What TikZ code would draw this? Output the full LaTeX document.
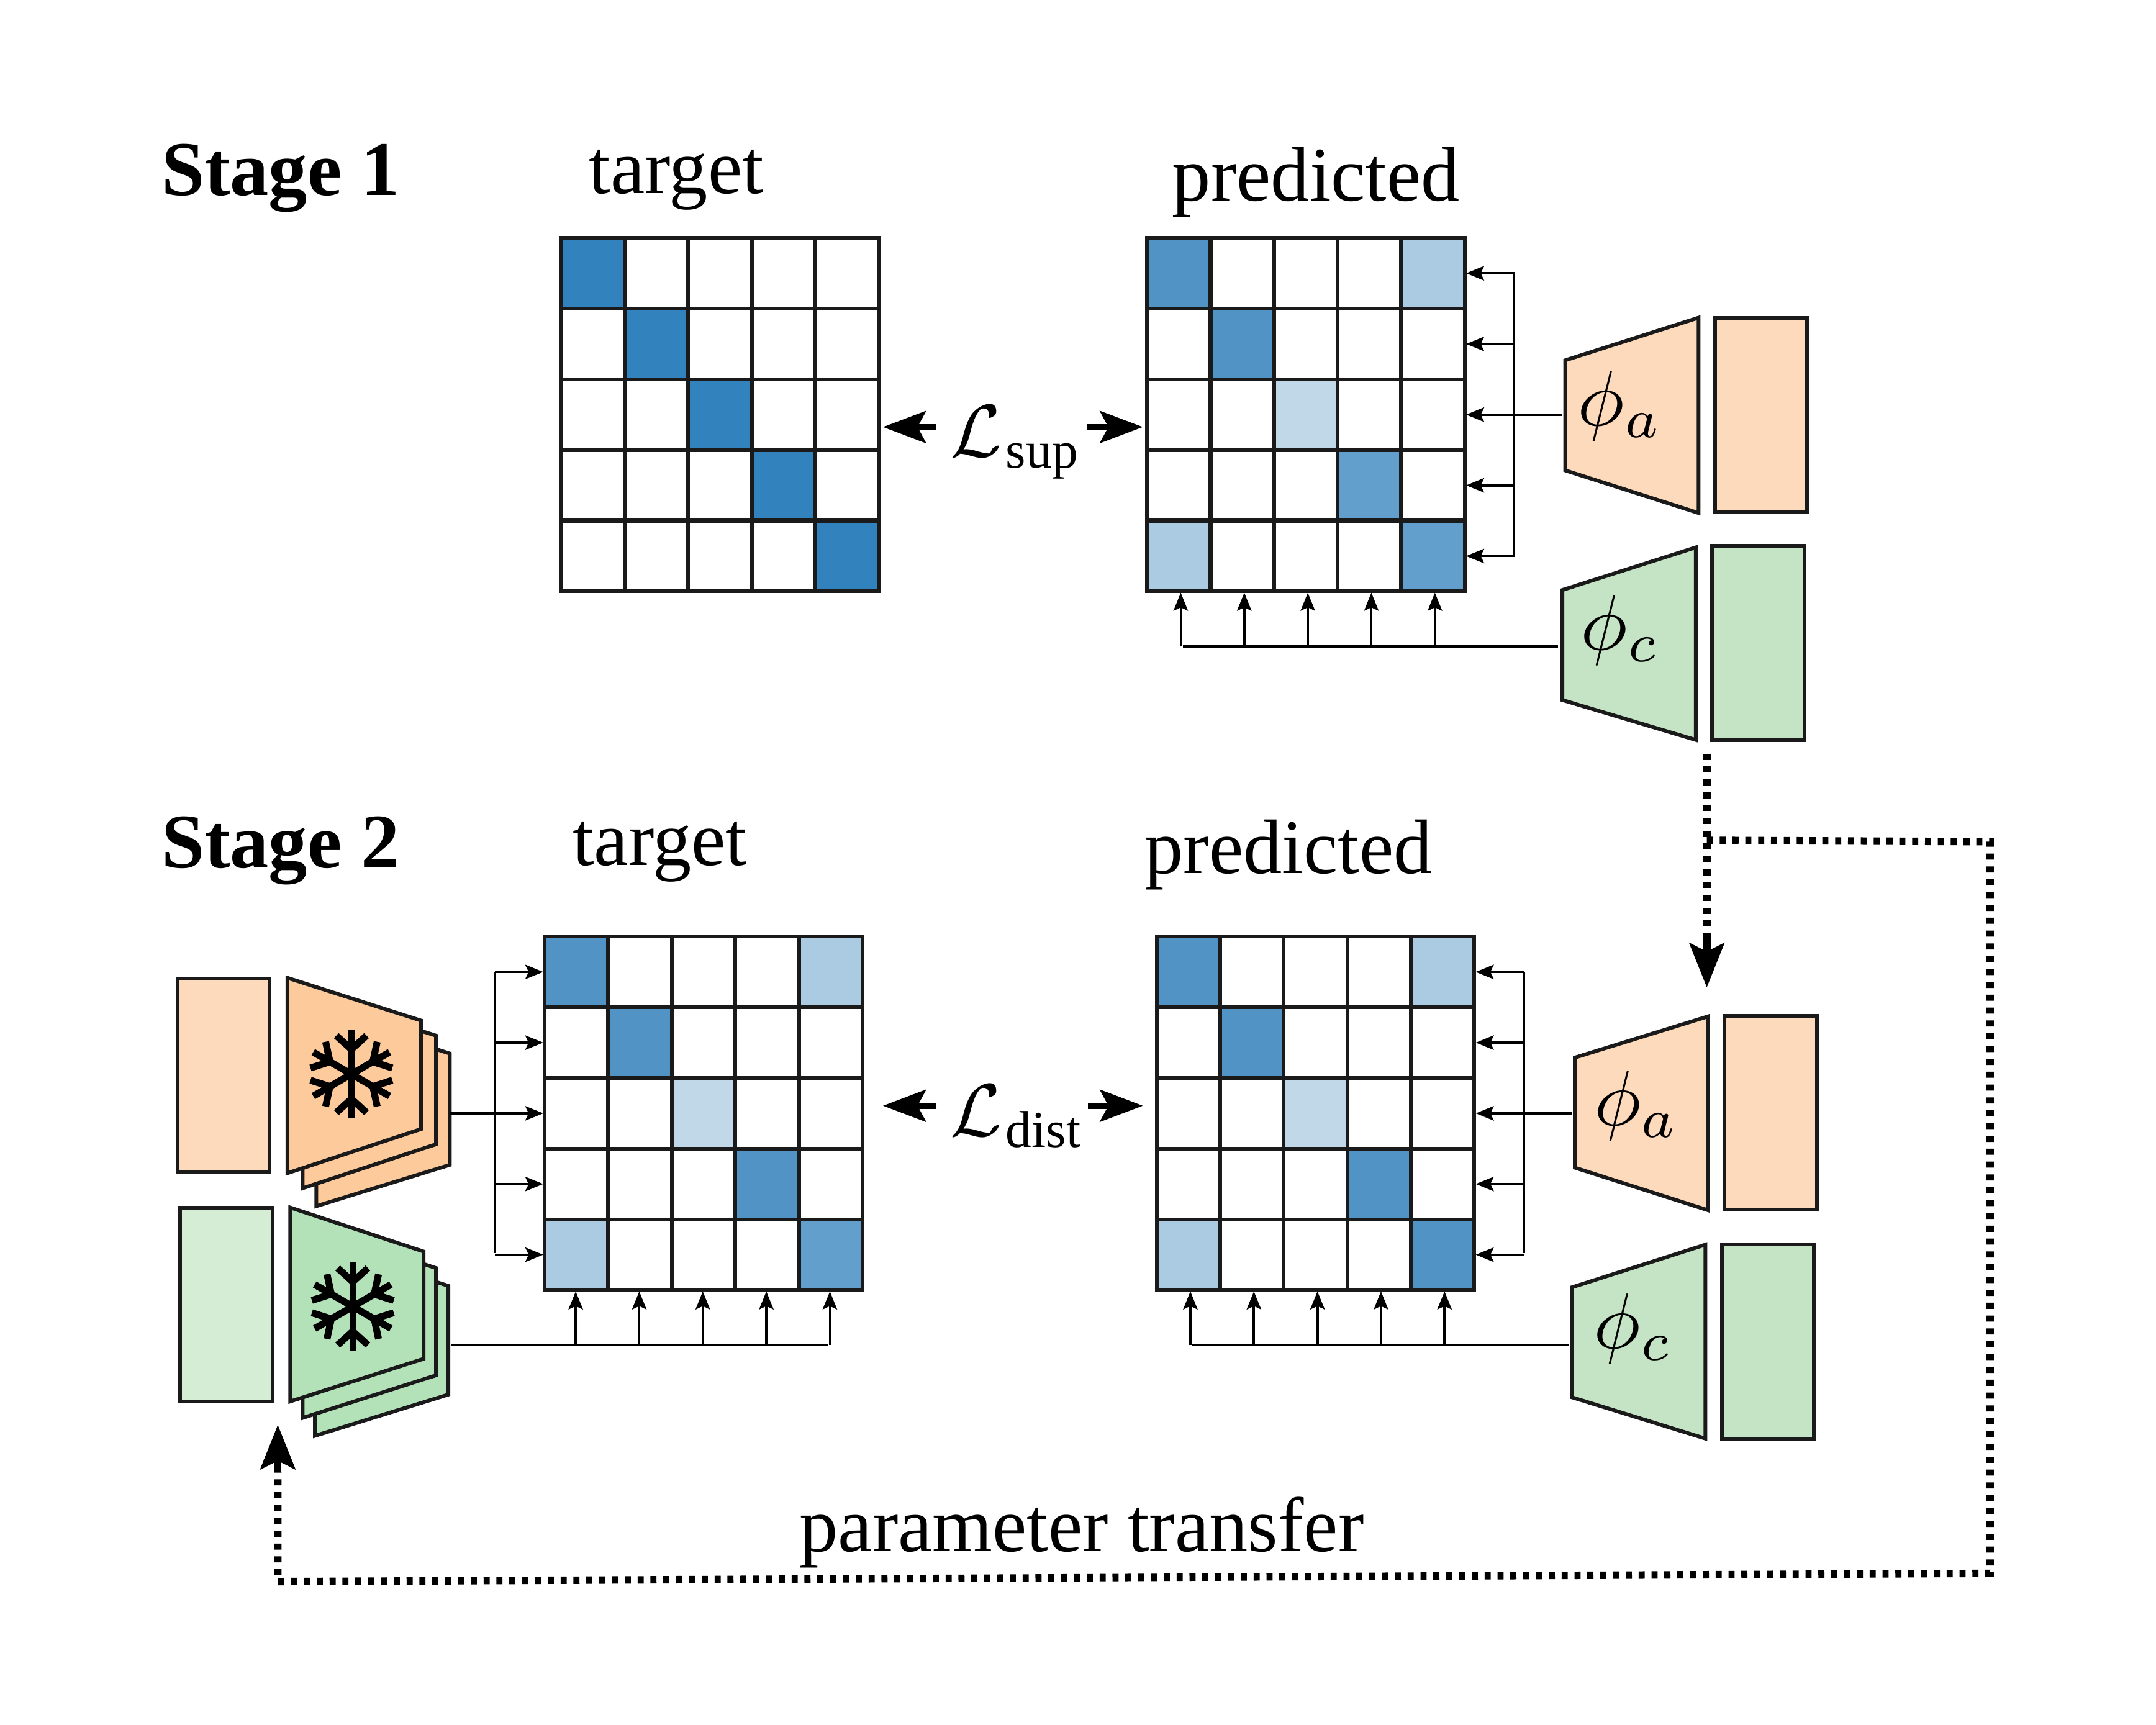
\documentclass[tikz,border=0pt]{standalone}
\usepackage{fontspec}
\setmainfont{Liberation Serif}
\usetikzlibrary{arrows.meta}
\definecolor{ink}{HTML}{1A1A1A}
\definecolor{peach}{HTML}{FEDABC}
\definecolor{peachD}{HTML}{FDCA9B}
\definecolor{mint}{HTML}{C5E3C5}
\definecolor{mintL}{HTML}{D5EDD5}
\definecolor{mintD}{HTML}{B3E2B9}
\definecolor{bA}{HTML}{3182BD}
\definecolor{bB}{HTML}{5193C4}
\definecolor{bC}{HTML}{639FCC}
\definecolor{bD}{HTML}{ABCBE3}
\definecolor{bE}{HTML}{C1D8E8}
\tikzset{
  x=0.4983pt,y=-0.4983pt,
  cellbox/.style={draw=ink,fill=white,line width=1.4pt,minimum width=23.02pt,minimum height=25.61pt,inner sep=0pt,outer sep=0pt},
  blockbox/.style={draw=ink,line width=1.35pt,inner sep=0pt,outer sep=0pt,minimum width=33.4pt,minimum height=70.3pt},
  trapbox/.style={draw=ink,line width=1.35pt,line join=miter},
  feed/.style={line width=0.85pt,draw=black},
  feedtip/.style={feed,-{Stealth[length=6.5pt,width=5.2pt,inset=1.2pt]},shorten >=0.5pt},
  lossarrow/.style={line width=2.2pt,-{Stealth[length=15.5pt,width=11.5pt,inset=3pt]}},
  transfer/.style={line width=2.7pt,dash pattern=on 2.2pt off 2.45pt},
  transfertip/.style={line width=2.7pt,-{Stealth[length=16pt,width=12.5pt,inset=3pt]}},
  heading/.style={font=\fontsize{28}{32}\selectfont\bfseries,anchor=base west,inner sep=0pt},
  caption/.style={font=\fontsize{28}{32}\selectfont,anchor=base west,inner sep=0pt},
  mathlabel/.style={scale=2.85,inner sep=0pt},
  losslabel/.style={scale=2.7,anchor=base west,inner sep=0pt},
  % cell colours
  ta-1-1/.style={fill=bA},ta-2-2/.style={fill=bA},ta-3-3/.style={fill=bA},ta-4-4/.style={fill=bA},ta-5-5/.style={fill=bA},
  pa-1-1/.style={fill=bB},pa-2-2/.style={fill=bB},pa-3-3/.style={fill=bE},pa-4-4/.style={fill=bC},pa-5-5/.style={fill=bC},pa-1-5/.style={fill=bD},pa-5-1/.style={fill=bD},
  tb-1-1/.style={fill=bB},tb-2-2/.style={fill=bB},tb-3-3/.style={fill=bE},tb-4-4/.style={fill=bB},tb-5-5/.style={fill=bC},tb-1-5/.style={fill=bD},tb-5-1/.style={fill=bD},
  pb-1-1/.style={fill=bB},pb-2-2/.style={fill=bB},pb-3-3/.style={fill=bE},pb-4-4/.style={fill=bB},pb-5-5/.style={fill=bB},pb-1-5/.style={fill=bD},pb-5-1/.style={fill=bD},
}
\newcommand\cellgrid[3]{%
  \foreach \r in {1,...,5}{\foreach \c in {1,...,5}{%
    \node[cellbox,#1-\r-\c/.try] (#1-\r-\c) at ({#2+(\c-0.5)*46.2},{#3+(\r-0.5)*51.4}) {};
  }}%
}
% name, xl, xr, left top, left bottom, right top, right bottom, fill
\newcommand\trap[8]{%
  \draw[trapbox,fill=#8] (#2,#4) -- (#3,#6) -- (#3,#7) -- (#2,#5) -- cycle;
}
\newcommand\flake[2]{%
  \foreach \a in {90,30,-30,-90,-150,150}{%
    \begin{scope}[shift={(#1,#2)},rotate=\a]
      \draw[line width=2.5pt,black,line cap=butt,line join=miter] (0,0) -- (32,0);
      \draw[line width=2.5pt,black,line cap=butt,line join=miter] (28,-11) -- (18,0) -- (28,11);
    \end{scope}
  }%
}
\begin{document}
\begin{tikzpicture}
\useasboundingbox (0,0) rectangle (1567.6,1254.2);
% headings
\node[heading] (s1) at (117,142) {Stage 1};
\node[heading] (s2) at (117,631) {Stage 2};
\node[caption] (c1) at (428,140.5) {target};
\node[caption] (c2) at (852,146) {predicted};
\node[caption] (c3) at (416,629) {target};
\node[caption] (c4) at (832,635) {predicted};
\node[caption] (c5) at (581,1128) {parameter transfer};
% grids
\cellgrid{ta}{408}{173}
\cellgrid{pa}{834}{173}
\cellgrid{tb}{396}{681}
\cellgrid{pb}{841}{681}
% losses
\node[losslabel] (lsup) at (690,332) {$\mathcal{L}_{\mkern1.2mu\mbox{\fontsize{6.95}{8}\selectfont sup}}$};
\node[losslabel] (ldist) at (690,826) {$\mathcal{L}_{\mkern1.2mu\mbox{\fontsize{6.95}{8}\selectfont dist}}$};
\coordinate (a1) at (681,310.5); \coordinate (a1t) at (642,310.5);
\coordinate (a2) at (790,310.5); \coordinate (a2t) at (831,310.5);
\coordinate (a3) at (681,804); \coordinate (a3t) at (642,804);
\coordinate (a4) at (791,804); \coordinate (a4t) at (831,804);
\draw[lossarrow] (a1) -- (a1t);
\draw[lossarrow] (a2) -- (a2t);
\draw[lossarrow] (a3) -- (a3t);
\draw[lossarrow] (a4) -- (a4t);
% stage 1 encoders
\trap{}{1138}{1235}{262}{342}{231}{373}{peach}
\node[blockbox,fill=peach] (ra) at (1280.5,301.5) {};
\node[mathlabel] (phia1) at (1178,295) {$\phi_a$};
\trap{}{1136}{1233}{429}{509}{398}{538}{mint}
\node[blockbox,fill=mint] (rc) at (1278.5,467.5) {};
\node[mathlabel] (phic1) at (1178,458) {$\phi_c$};
% stage 2 right encoders
\trap{}{1145}{1242}{769}{849}{739}{880}{peach}
\node[blockbox,fill=peach] (rb) at (1287.5,809) {};
\node[mathlabel] (phia2) at (1190,804) {$\phi_a$};
\trap{}{1143}{1240}{936}{1016}{905}{1046}{mint}
\node[blockbox,fill=mint] (rd) at (1285.5,975.5) {};
\node[mathlabel] (phic2) at (1187.5,966) {$\phi_c$};
% stage 2 left frozen encoders
\node[blockbox,fill=peach] (lf) at (162.5,782) {};
\trap{}{230}{327}{735}{877}{766}{847}{peachD}
\trap{}{220}{317}{722}{864}{753}{832}{peachD}
\trap{}{209}{306}{711}{853}{742}{821}{peachD}
\flake{255.5}{781}
\node[blockbox,fill=mintL] (lg) at (164.5,948.5) {};
\trap{}{229}{326}{903}{1044}{935}{1014}{mintD}
\trap{}{220}{317}{890}{1031}{922}{1000}{mintD}
\trap{}{211}{308}{878}{1019}{910}{988}{mintD}
\flake{256.5}{950}
% stage 1 feeds
\coordinate (fa) at (1136,301.5);
\coordinate (ba1) at (1101,199); \coordinate (ba5) at (1101,404);
\draw[feedtip] (fa) -- (pa-3-5.east);
\draw[feed] (ba1) -- (ba5);
\foreach \r in {1,2,4,5}{\draw[feedtip] (1101,{173+(\r-0.5)*51.4}) -- (pa-\r-5.east);}
\coordinate (fc) at (1133,470); \coordinate (fcl) at (860,470);
\draw[feed] (fc) -- (fcl);
\foreach \c in {1,...,5}{\draw[feedtip] ([xshift=0.7pt]pa-5-\c.south |- fc) -- ([xshift=0.7pt]pa-5-\c.south);}
% stage 2 right feeds
\coordinate (fb) at (1143,809.5);
\coordinate (bb1) at (1108,707); \coordinate (bb5) at (1108,911);
\draw[feedtip] (fb) -- (pb-3-5.east);
\draw[feed] (bb1) -- (bb5);
\foreach \r in {1,2,4,5}{\draw[feedtip] (1108,{681+(\r-0.5)*51.4}) -- (pb-\r-5.east);}
\coordinate (fd) at (1141,978); \coordinate (fdl) at (867,978);
\draw[feed] (fd) -- (fdl);
\foreach \c in {1,...,5}{\draw[feedtip] ([xshift=0.7pt]pb-5-\c.south |- fd) -- ([xshift=0.7pt]pb-5-\c.south);}
% stage 2 left feeds
\coordinate (fe) at (327,809.5);
\coordinate (be1) at (360,707); \coordinate (be5) at (360,911);
\draw[feedtip] (fe) -- (tb-3-1.west);
\draw[feed] (be1) -- (be5);
\foreach \r in {1,2,4,5}{\draw[feedtip] (360,{681+(\r-0.5)*51.4}) -- (tb-\r-1.west);}
\coordinate (ff) at (328,978); \coordinate (ffr) at (602,978);
\draw[feed] (ff) -- (ffr);
\foreach \c in {1,...,5}{\draw[feedtip] ([xshift=-0.25pt]tb-5-\c.south |- ff) -- ([xshift=-0.25pt]tb-5-\c.south);}
% parameter transfer
\coordinate (d0) at (1241,548); \coordinate (d1) at (1241,682); \coordinate (d1t) at (1241,718);
\coordinate (d2) at (1241,611); \coordinate (d3) at (1447,612); \coordinate (d4) at (1447,1144);
\coordinate (d5) at (202,1150); \coordinate (d6) at (202,1070); \coordinate (d6t) at (202,1036);
\draw[transfer] (d0) -- (d1);
\draw[transfer] (d2) -- (d3) -- (d4) -- (d5) -- (d6);
\draw[transfertip] (d1) -- (d1t);
\draw[transfertip] (d6) -- (d6t);
\end{tikzpicture}
\end{document}
